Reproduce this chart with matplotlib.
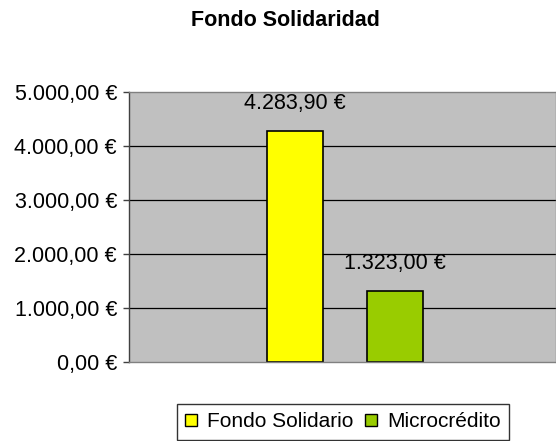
import matplotlib.pyplot as plt
from matplotlib.ticker import FuncFormatter
from matplotlib.patches import Patch

plt.rcParams["font.family"] = ["Liberation Sans", "DejaVu Sans"]

# data
series = ["Fondo Solidario", "Microcrédito"]
values = [4283.90, 1323.00]
colors = ["#FFFF00", "#99CC00"]
offsets = [-0.111, 0.122]
bar_width = 0.131
y_ticks = [0, 1000, 2000, 3000, 4000, 5000]


def euro(v, pos=None):
    s = f"{v:,.2f}"
    s = s.replace(",", "X").replace(".", ",").replace("X", ".")
    return s + " €"


fig = plt.figure(figsize=(5.56, 4.41), dpi=100)
ax = fig.add_axes([129 / 556, 1 - 362 / 441, 1 - 129 / 556, (362 - 92) / 441])
ax.set_facecolor("#C0C0C0")

# gridlines
for t in y_ticks[1:-1]:
    ax.axhline(t, color="black", linewidth=0.9, zorder=1)

for off, val, col in zip(offsets, values, colors):
    ax.bar(off, val, width=bar_width, color=col, edgecolor="black",
           linewidth=1.2, zorder=2)
    ax.annotate(euro(val), (off, val), xytext=(0, 19.5), textcoords="offset points",
                ha="center", va="center", fontsize=15.5)

ax.set_xlim(-0.5, 0.5)
ax.set_ylim(0, 5000)
ax.set_yticks(y_ticks)
ax.yaxis.set_major_formatter(FuncFormatter(euro))
ax.set_xticks([])
ax.tick_params(axis="y", length=4.3, width=1, color="#404040", labelsize=15.5, pad=4.3)

for side in ["top", "right", "bottom"]:
    ax.spines[side].set_color("#808080")
    ax.spines[side].set_linewidth(1)
ax.spines["left"].set_color("#404040")
ax.spines["left"].set_linewidth(1)

fig.text(285 / 556, 1 - 21 / 441, "Fondo Solidaridad", ha="center", va="center",
         fontsize=15.5, fontweight="bold")

handles = [Patch(facecolor=c, edgecolor="black", label=s) for c, s in zip(colors, series)]
fig.legend(handles=handles, loc="upper left", bbox_to_anchor=(177 / 556, 1 - 404 / 441),
           ncol=2, frameon=True, fancybox=False, edgecolor="black", fontsize=15,
           handlelength=0.58, handleheight=0.58, handletextpad=0.48, columnspacing=0.53,
           borderaxespad=0, borderpad=0.4)

fig.savefig("out.png", dpi=100)
